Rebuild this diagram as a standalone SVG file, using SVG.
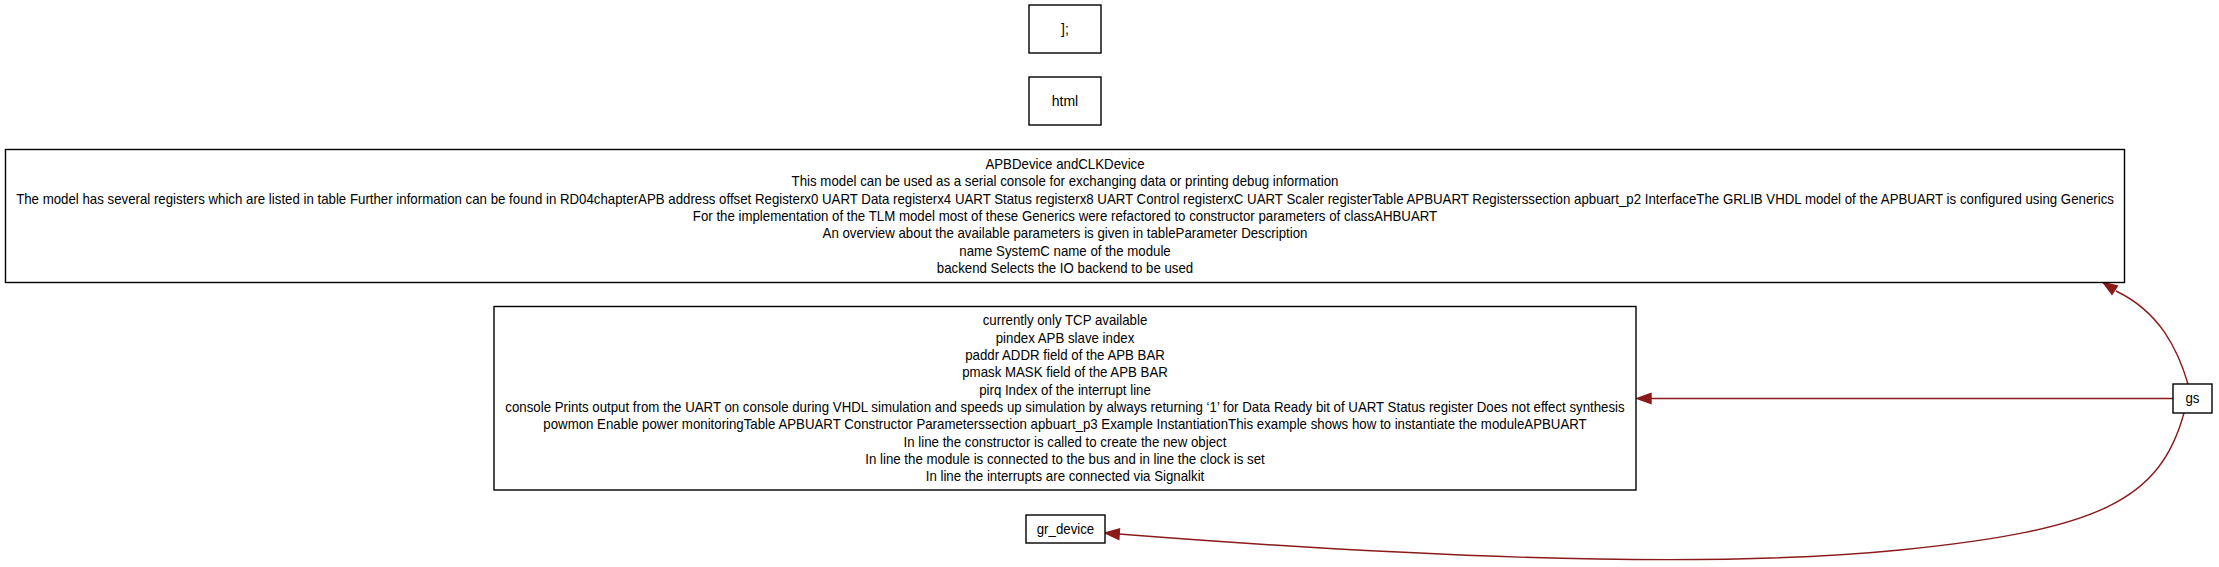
<svg xmlns="http://www.w3.org/2000/svg" width="2219" height="567" viewBox="0 0 2219 567">
<style>
  .box { fill: #ffffff; stroke: #000000; stroke-width: 1.4; }
  .t { font-family: "Liberation Sans", Arial, sans-serif; font-size: 14px; fill: #000000; text-anchor: middle; }
  .edge { fill: none; stroke: #8b1a1a; stroke-width: 1.4; }
  .head { fill: #8b1a1a; stroke: #8b1a1a; stroke-width: 1.4; }
</style>
<rect width="2219" height="567" fill="#ffffff"/>
<g id="connectors">
  <path class="edge" d="M2188,384 C2178,350 2160,312 2116,291"/>
  <polygon class="head" points="2117.4,286 2103,282.5 2112,294.4"/>
  <path class="edge" d="M2173,398.5 L1651,398.5"/>
  <polygon class="head" points="1651,393.5 1637,398.5 1651,403.5"/>
  <path class="edge" d="M2184,413 C2160,500 2100,530 1900,550 C1700,570 1400,556 1119,534"/>
  <polygon class="head" points="1119.5,529 1105,533 1118.8,539.5"/>
</g>
<g id="node_semicolon">
  <rect class="box" x="1029" y="5" width="72" height="48"/>
  <text class="t" x="1065" y="34">];</text>
</g>
<g id="node_html">
  <rect class="box" x="1029" y="77" width="72" height="48"/>
  <text class="t" x="1065" y="106">html</text>
</g>
<g id="node_apbdevice">
  <rect class="box" x="5.5" y="149.5" width="2119" height="133"/>
  <g transform="matrix(0.948,0,0,1,55.4,0)">
    <text class="t" x="1065" y="169">APBDevice andCLKDevice</text>
    <text class="t" x="1065" y="186.4">This model can be used as a serial console for exchanging data or printing debug information</text>
    <text class="t" x="1065" y="203.7">The model has several registers which are listed in table Further information can be found in RD04chapterAPB address offset Registerx0 UART Data registerx4 UART Status registerx8 UART Control registerxC UART Scaler registerTable APBUART Registerssection apbuart_p2 InterfaceThe GRLIB VHDL model of the APBUART is configured using Generics</text>
    <text class="t" x="1065" y="221">For the implementation of the TLM model most of these Generics were refactored to constructor parameters of classAHBUART</text>
    <text class="t" x="1065" y="238.3">An overview about the available parameters is given in tableParameter Description</text>
    <text class="t" x="1065" y="255.6">name SystemC name of the module</text>
    <text class="t" x="1065" y="272.9">backend Selects the IO backend to be used</text>
  </g>
</g>
<g id="node_currently">
  <rect class="box" x="494" y="306.5" width="1142" height="183.5"/>
  <g transform="matrix(0.948,0,0,1,55.4,0)">
    <text class="t" x="1065" y="325.5">currently only TCP available</text>
    <text class="t" x="1065" y="342.8">pindex APB slave index</text>
    <text class="t" x="1065" y="360.1">paddr ADDR field of the APB BAR</text>
    <text class="t" x="1065" y="377.4">pmask MASK field of the APB BAR</text>
    <text class="t" x="1065" y="394.7">pirq Index of the interrupt line</text>
    <text class="t" x="1065" y="412">console Prints output from the UART on console during VHDL simulation and speeds up simulation by always returning ‘1’ for Data Ready bit of UART Status register Does not effect synthesis</text>
    <text class="t" x="1065" y="429.3">powmon Enable power monitoringTable APBUART Constructor Parameterssection apbuart_p3 Example InstantiationThis example shows how to instantiate the moduleAPBUART</text>
    <text class="t" x="1065" y="446.6">In line the constructor is called to create the new object</text>
    <text class="t" x="1065" y="463.9">In line the module is connected to the bus and in line the clock is set</text>
    <text class="t" x="1065" y="481.2">In line the interrupts are connected via Signalkit</text>
  </g>
</g>
<g id="node_gs">
  <rect class="box" x="2173" y="384" width="39" height="29"/>
  <text class="t" x="2192.5" y="403.5" transform="matrix(0.948,0,0,1,114,0)">gs</text>
</g>
<g id="node_gr_device">
  <rect class="box" x="1026" y="515" width="79" height="28"/>
  <text class="t" x="1065.5" y="534" transform="matrix(0.948,0,0,1,55.4,0)">gr_device</text>
</g>
</svg>
